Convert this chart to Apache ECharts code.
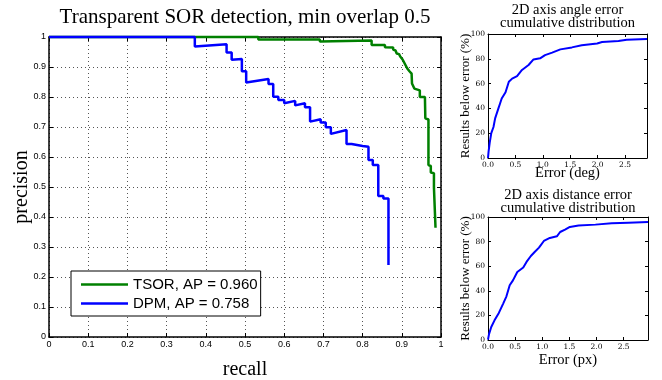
<!DOCTYPE html>
<html><head><meta charset="utf-8">
<script src="https://cdn.jsdelivr.net/npm/echarts@6/dist/echarts.min.js"></script>
<style>html,body{margin:0;padding:0;background:#fff}#c{width:662px;height:380px}</style>
</head><body><div id="c"></div>
<script>
// ---- data ----
const seriesNames = ['TSOR, AP = 0.960', 'DPM, AP = 0.758'];
const tsorRecall    = [0, 0.534, 0.534, 0.691, 0.691, 0.823, 0.823, 0.857, 0.857, 0.878, 0.878, 0.884, 0.887, 0.893, 0.896, 0.900, 0.902, 0.906, 0.908, 0.912, 0.914, 0.918, 0.920, 0.925, 0.926, 0.930, 0.932, 0.946, 0.946, 0.959, 0.960, 0.968, 0.968, 0.974, 0.974, 0.982, 0.982, 0.986, 0.986];
const tsorPrecision = [1, 1, 0.992, 0.992, 0.985, 0.988, 0.973, 0.973, 0.966, 0.965, 0.958, 0.955, 0.945, 0.943, 0.935, 0.933, 0.925, 0.920, 0.910, 0.905, 0.895, 0.893, 0.885, 0.878, 0.845, 0.840, 0.828, 0.822, 0.800, 0.800, 0.729, 0.725, 0.573, 0.570, 0.548, 0.546, 0.498, 0.496, 0.364];
const dpmRecall    = [0, 0.372, 0.372, 0.453, 0.453, 0.466, 0.466, 0.492, 0.492, 0.503, 0.503, 0.560, 0.560, 0.572, 0.572, 0.585, 0.585, 0.600, 0.600, 0.628, 0.628, 0.653, 0.653, 0.666, 0.666, 0.693, 0.693, 0.706, 0.706, 0.719, 0.719, 0.759, 0.759, 0.772, 0.800, 0.815, 0.815, 0.826, 0.826, 0.840, 0.840, 0.853, 0.853, 0.866, 0.866];
const dpmPrecision = [1, 1, 0.968, 0.976, 0.948, 0.948, 0.924, 0.927, 0.886, 0.886, 0.848, 0.860, 0.843, 0.843, 0.801, 0.801, 0.790, 0.790, 0.779, 0.787, 0.772, 0.779, 0.766, 0.766, 0.718, 0.726, 0.715, 0.715, 0.699, 0.699, 0.677, 0.690, 0.643, 0.643, 0.637, 0.634, 0.590, 0.590, 0.573, 0.573, 0.470, 0.470, 0.462, 0.462, 0.240];
const angleError   = [0, 0.01, 0.01, 0.03, 0.03, 0.05, 0.06, 0.08, 0.10, 0.13, 0.16, 0.19, 0.22, 0.25, 0.32, 0.38, 0.44, 0.53, 0.62, 0.74, 0.83, 0.95, 1.04, 1.17, 1.32, 1.53, 1.71, 1.99, 2.08, 2.38, 2.53, 2.90];
const anglePercent = [0, 1, 5, 5, 12, 12, 20, 21, 25, 32, 33, 40, 44, 48, 53, 61.5, 64, 66, 71, 75, 79.5, 80.4, 83, 85, 87.6, 89.2, 91, 92.4, 93.5, 94.4, 95.4, 96];
const distError   = [0, 0.02, 0.06, 0.12, 0.20, 0.28, 0.34, 0.40, 0.46, 0.54, 0.65, 0.71, 0.79, 0.86, 0.94, 1.03, 1.14, 1.27, 1.33, 1.42, 1.51, 1.67, 1.98, 2.28, 2.59, 2.95];
const distPercent = [0.3, 5, 10.6, 16, 22, 29.6, 35.5, 44.5, 48.5, 55.3, 58.9, 63.5, 68.3, 71.5, 75.1, 80.5, 83, 84.3, 87.8, 89.7, 91.9, 93, 93.8, 94.9, 95.4, 95.9];
const mainTickLabels = ['0', '0.1', '0.2', '0.3', '0.4', '0.5', '0.6', '0.7', '0.8', '0.9', '1'];
const errTickLabels = ['0.0', '0.5', '1.0', '1.5', '2.0', '2.5'];
const pctTickLabels = ['0', '20', '40', '60', '80', '100'];

const zip = (a, b) => a.map((v, i) => [v, b[i]]);
const serif = 'Liberation Serif';
const sans = 'Liberation Sans';

function lookup(labels, step) {
  return v => { const i = Math.round(v / step); return (Math.abs(v - i * step) < 1e-6 && labels[i] !== undefined) ? labels[i] : ''; };
}

function axis(o) {
  const base = {
    type: 'value', gridIndex: o.grid, min: o.min, max: o.max, interval: o.interval,
    position: o.position,
    axisLine: { show: true, onZero: false, lineStyle: { color: '#000', width: o.lw } },
    axisTick: { show: true, inside: true, length: o.tick, lineStyle: { color: '#000', width: 1 } },
    axisLabel: o.labels ? {
      show: true, margin: o.margin, formatter: lookup(o.labels, o.interval), showMaxLabel: o.showMax !== false,
      fontFamily: o.font, fontSize: o.fontSize, color: '#000'
    } : { show: false },
    splitLine: { show: !!o.split, lineStyle: { color: '#555', width: 1, type: [1, 3], opacity: 1 } }
  };
  if (o.name) {
    base.name = o.name; base.nameLocation = 'middle'; base.nameGap = o.nameGap;
    base.nameMoveOverlap = false;
    base.nameTextStyle = { fontFamily: serif, fontSize: o.nameSize, color: '#000' };
  }
  return base;
}

const option = {
  animation: false,
  backgroundColor: '#fff',
  title: [
    { text: 'Transparent SOR detection, min overlap 0.5', left: 245, top: 7, textAlign: 'center', padding: 0,
      textStyle: { fontFamily: serif, fontSize: 21, fontWeight: 'normal', color: '#000' } },
    { text: '2D axis angle error\ncumulative distribution', left: 567.5, top: 4, textAlign: 'center', padding: 0,
      textStyle: { fontFamily: serif, fontSize: 14.5, lineHeight: 13, fontWeight: 'normal', color: '#000' } },
    { text: '2D axis distance error\ncumulative distribution', left: 568, top: 189, textAlign: 'center', padding: 0,
      textStyle: { fontFamily: serif, fontSize: 14.5, lineHeight: 13, fontWeight: 'normal', color: '#000' } }
  ],
  grid: [
    { left: 49, top: 37, width: 392, height: 300, containLabel: false, outerBoundsMode: 'none' },
    { left: 488, top: 34, width: 159, height: 124, containLabel: false, outerBoundsMode: 'none' },
    { left: 488, top: 217, width: 160, height: 123, containLabel: false, outerBoundsMode: 'none' }
  ],
  legend: {
    orient: 'vertical', left: 71, top: 271, data: seriesNames,
    icon: 'rect', itemWidth: 47, itemHeight: 2.5, itemGap: 0,
    padding: [4, 3, 3, 10], borderColor: '#000', borderWidth: 1, backgroundColor: '#fff',
    textStyle: { fontFamily: sans, fontSize: 15, lineHeight: 19, color: '#000' }
  },
  xAxis: [
    axis({ grid: 0, min: 0, max: 1, interval: 0.1, position: 'bottom', lw: 1.5, tick: 4, labels: mainTickLabels, margin: 3, font: sans, fontSize: 9, split: true, name: 'recall', nameGap: 23, nameSize: 20 }),
    axis({ grid: 0, min: 0, max: 1, interval: 0.1, position: 'top', lw: 1.5, tick: 4 }),
    axis({ grid: 1, min: 0, max: 2.9, interval: 0.5, position: 'bottom', lw: 1, tick: 3, labels: errTickLabels, margin: 3, font: 'DejaVu Serif', fontSize: 7.5, showMax: false, name: 'Error (deg)', nameGap: 8, nameSize: 14.5 }),
    axis({ grid: 1, min: 0, max: 2.9, interval: 0.5, position: 'top', lw: 1, tick: 3 }),
    axis({ grid: 2, min: 0, max: 2.95, interval: 0.5, position: 'bottom', lw: 1, tick: 3, labels: errTickLabels, margin: 3, font: 'DejaVu Serif', fontSize: 7.5, showMax: false, name: 'Error (px)', nameGap: 13, nameSize: 14.5 }),
    axis({ grid: 2, min: 0, max: 2.95, interval: 0.5, position: 'top', lw: 1, tick: 3 })
  ],
  yAxis: [
    axis({ grid: 0, min: 0, max: 1, interval: 0.1, position: 'left', lw: 1.5, tick: 4, labels: mainTickLabels, margin: 3, font: sans, fontSize: 9, split: true, name: 'precision', nameGap: 17, nameSize: 20 }),
    axis({ grid: 0, min: 0, max: 1, interval: 0.1, position: 'right', lw: 1.5, tick: 4 }),
    axis({ grid: 1, min: 0, max: 100, interval: 20, position: 'left', lw: 1, tick: 3, labels: pctTickLabels, margin: 3, font: 'DejaVu Serif', fontSize: 7.5, name: 'Results below error (%)', nameGap: 16, nameSize: 13 }),
    axis({ grid: 1, min: 0, max: 100, interval: 20, position: 'right', lw: 1, tick: 3 }),
    axis({ grid: 2, min: 0, max: 100, interval: 20, position: 'left', lw: 1, tick: 3, labels: pctTickLabels, margin: 3, font: 'DejaVu Serif', fontSize: 7.5, name: 'Results below error (%)', nameGap: 16, nameSize: 13 }),
    axis({ grid: 2, min: 0, max: 100, interval: 20, position: 'right', lw: 1, tick: 3 })
  ],
  series: [
    { name: seriesNames[0], type: 'line', xAxisIndex: 0, yAxisIndex: 0, data: zip(tsorRecall, tsorPrecision),
      symbol: 'none', clip: false, color: '#008000', lineStyle: { width: 2.5, color: '#008000' }, z: 3 },
    { name: seriesNames[1], type: 'line', xAxisIndex: 0, yAxisIndex: 0, data: zip(dpmRecall, dpmPrecision),
      symbol: 'none', clip: false, color: '#0000ff', lineStyle: { width: 2.5, color: '#0000ff' }, z: 4 },
    { name: 'angle', type: 'line', xAxisIndex: 2, yAxisIndex: 2, data: zip(angleError, anglePercent),
      symbol: 'none', clip: false, color: '#0000ff', lineStyle: { width: 2, color: '#0000ff' } },
    { name: 'distance', type: 'line', xAxisIndex: 4, yAxisIndex: 4, data: zip(distError, distPercent),
      symbol: 'none', clip: false, color: '#0000ff', lineStyle: { width: 2, color: '#0000ff' } }
  ]
};
const chart = echarts.init(document.getElementById('c'), null, { renderer: 'canvas' });
chart.setOption(option);
</script>
</body></html>
